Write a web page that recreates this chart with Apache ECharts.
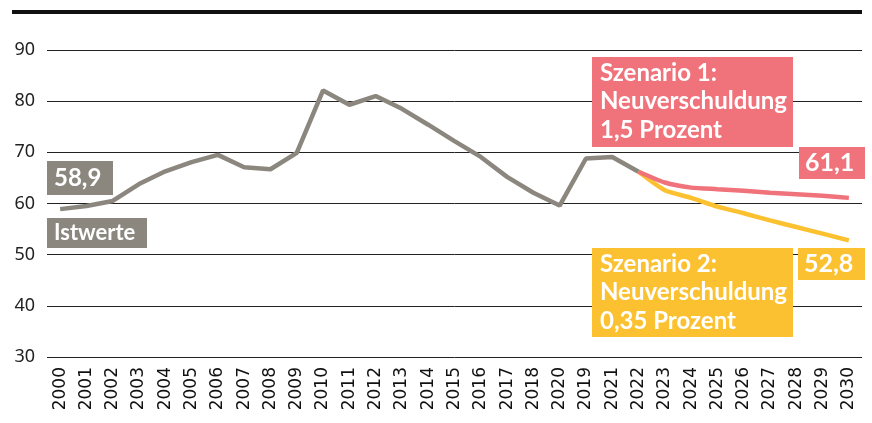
<!DOCTYPE html>
<html>
<head>
<meta charset="utf-8">
<script src="https://cdn.jsdelivr.net/npm/echarts@6/dist/echarts.min.js"></script>
<style>
  html, body { margin: 0; padding: 0; background: #fff; }
  #chart { width: 872px; height: 423px; }
</style>
</head>
<body>
<div id="chart"></div>
<script>
// Jahre (Reihenfolge wie in der Vorlage, 2020 steht vor 2019)
const years = ['2000','2001','2002','2003','2004','2005','2006','2007','2008','2009',
  '2010','2011','2012','2013','2014','2015','2016','2017','2018','2020','2019',
  '2021','2022','2023','2024','2025','2026','2027','2028','2029','2030'];

// Istwerte 2000-2022
const istwerte = [58.9, 59.5, 60.5, 63.8, 66.3, 68.1, 69.5, 67.1, 66.7, 69.9,
  82.1, 79.3, 81.0, 78.5, 75.4, 72.2, 69.1, 65.2, 62.1, 59.6, 68.8, 69.1, 66.2];

// Szenarien ab 2022
const szenario1 = [66.2, 64.1, 63.1, 62.8, 62.5, 62.1, 61.8, 61.5, 61.1];
const szenario2 = [66.2, 62.6, 61.1, 59.4, 58.1, 56.7, 55.4, 54.1, 52.8];

const yTicks = { min: 30, max: 90, interval: 10 };

const GRAY = '#8b877f';
const PINK = '#f0727b';
const YELLOW = '#fcc131';

const pad = (arr, before) => Array(before).fill('-').concat(arr);
const startIdx = istwerte.length - 1;

const chart = echarts.init(document.getElementById('chart'));

// Kasten mit weißem Text (liegt über Gitterlinien)
const box = (x, y, w, h, bg, text, size, lh, tx, ty) => [
  {
    type: 'rect',
    z: 100,
    shape: { x: x, y: y, width: w, height: h },
    style: { fill: bg }
  },
  {
    type: 'text',
    z: 101,
    x: x + tx,
    y: y + ty,
    style: {
      text: text,
      fill: '#fff',
      font: 'bold ' + size + 'px Lato, "Open Sans", sans-serif',
      lineHeight: lh,
      verticalAlign: 'top'
    }
  }
];

const option = {
  backgroundColor: '#fff',
  animation: false,
  grid: { left: 47, right: 10, top: 50, bottom: 66 },
  xAxis: {
    type: 'category',
    data: years,
    boundaryGap: true,
    axisLine: { show: false },
    axisTick: { show: false },
    axisLabel: {
      rotate: 90,
      interval: 0,
      margin: 10,
      color: '#111',
      fontFamily: 'DejaVu Sans',
      fontSize: 17
    }
  },
  yAxis: {
    type: 'value',
    min: yTicks.min,
    max: yTicks.max,
    interval: yTicks.interval,
    axisLine: { show: false },
    axisTick: { show: false },
    axisLabel: {
      color: '#222',
      fontFamily: '"Noto Sans", sans-serif',
      fontSize: 18,
      margin: 12
    },
    splitLine: { lineStyle: { color: '#222', width: 1 } }
  },
  series: [
    {
      name: 'Istwerte',
      type: 'line',
      data: istwerte,
      symbol: 'none',
      lineStyle: { color: GRAY, width: 4.5 },
      z: 3
    },
    {
      name: 'Szenario 2',
      type: 'line',
      data: pad(szenario2, startIdx),
      symbol: 'none',
      smooth: 0.2,
      lineStyle: { color: YELLOW, width: 4.5 },
      z: 4
    },
    {
      name: 'Szenario 1',
      type: 'line',
      data: pad(szenario1, startIdx),
      symbol: 'none',
      smooth: 0.2,
      lineStyle: { color: PINK, width: 4.5 },
      z: 5
    }
  ],
  graphic: [
    {
      type: 'rect',
      shape: { x: 12, y: 10, width: 850, height: 4 },
      style: { fill: '#111' }
    }
  ].concat(
    box(47, 161, 66, 34, GRAY, '58,9', 24, 28, 7, 3),
    box(47, 218, 100, 30, GRAY, 'Istwerte', 22, 26, 7, 2),
    box(592, 57, 201, 90, PINK, 'Szenario 1:\nNeuverschuldung\n1,5 Prozent', 24, 28.5, 8, 2),
    box(799, 147, 66, 32, PINK, '61,1', 25, 30, 6, 1),
    box(592, 248, 201, 89, YELLOW, 'Szenario 2:\nNeuverschuldung\n0,35 Prozent', 24, 28.5, 8, 2),
    box(798, 248, 67, 32, YELLOW, '52,8', 25, 30, 6, 1)
  )
};

chart.setOption(option);
</script>
</body>
</html>
